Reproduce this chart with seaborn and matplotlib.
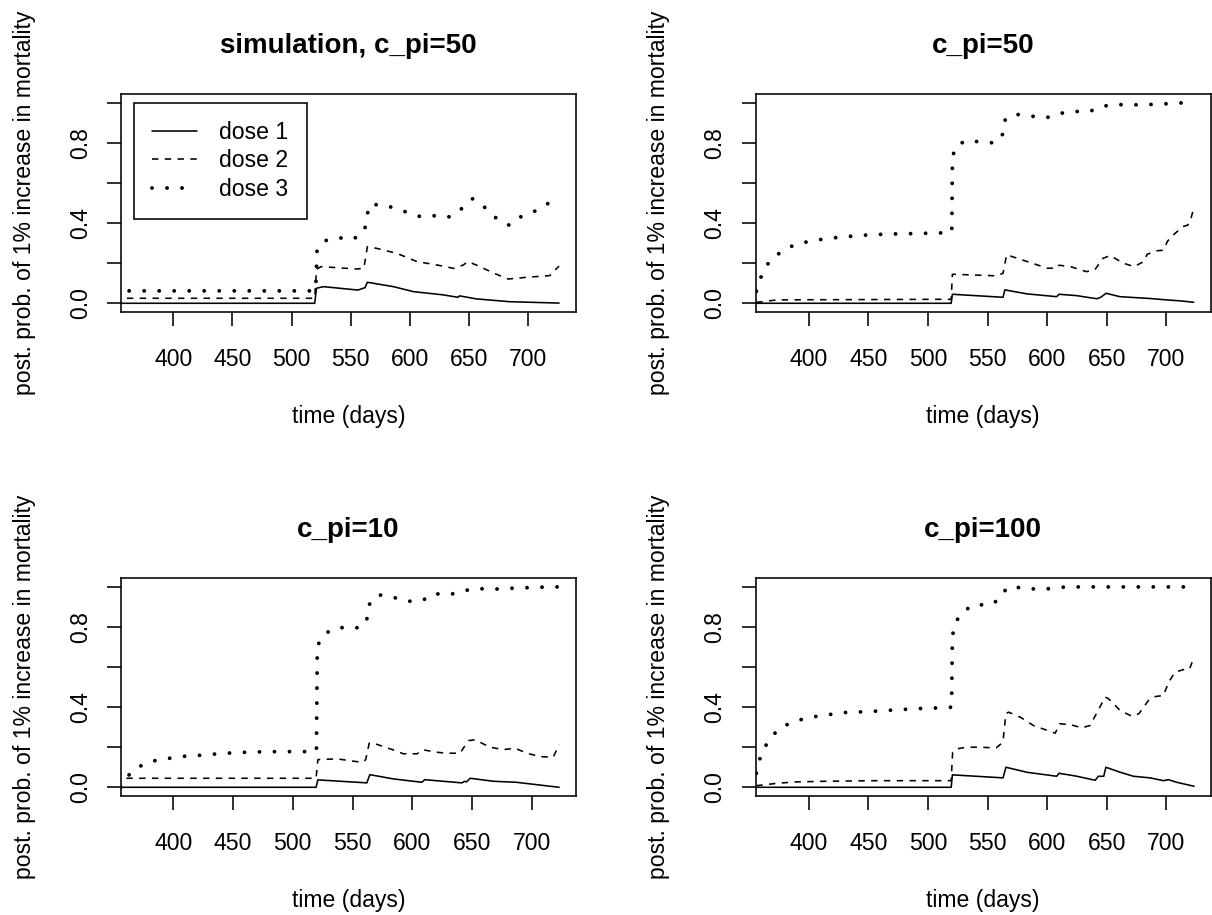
import matplotlib
matplotlib.use("Agg")
import matplotlib.pyplot as plt
import numpy as np
import pandas as pd
import seaborn as sns

# ---- posterior probability series (time in days, probability) ----
# simulation, c_pi=50
sim50_d1_t = [350, 519.5, 521, 527, 556, 562, 564, 586, 603, 628, 640.5, 642, 656, 684, 726]
sim50_d1_p = [0.0, 0.0, 0.075, 0.083, 0.066, 0.078, 0.105, 0.083, 0.058, 0.042, 0.030, 0.037, 0.022, 0.008, 0.001]
sim50_d2_t = [350, 519.5, 521, 525, 555, 561, 564, 572, 589, 606, 623, 637, 645, 649, 656, 671, 683, 699, 718, 726]
sim50_d2_p = [0.025, 0.025, 0.17, 0.183, 0.171, 0.175, 0.282, 0.274, 0.249, 0.208, 0.191, 0.174, 0.191, 0.208, 0.191, 0.150, 0.121, 0.13, 0.138, 0.186]
sim50_d3_t = [350, 519.5, 520.5, 521.5, 528, 540, 552, 559.5, 561.5, 565.5, 578, 590, 601, 609, 620, 632, 641, 647,
              653, 663.5, 672.5, 684, 693.5, 704, 713, 720, 726]
sim50_d3_p = [0.062, 0.062, 0.10, 0.27, 0.312, 0.327, 0.319, 0.353, 0.36, 0.492, 0.492, 0.468, 0.448, 0.432, 0.437,
              0.429, 0.455, 0.495, 0.522, 0.477, 0.427, 0.389, 0.431, 0.455, 0.485, 0.51, 0.52]

# c_pi=50
cpi50_d1_t = [350, 519.5, 520.5, 563, 564.5, 583, 608, 610, 625, 639, 642, 645, 649.5, 661, 686, 700, 712, 723]
cpi50_d1_p = [0.0, 0.0, 0.045, 0.03, 0.067, 0.047, 0.033, 0.045, 0.038, 0.025, 0.023, 0.03, 0.05, 0.033, 0.024, 0.017, 0.012, 0.005]
cpi50_d2_t = [356, 362, 373, 519.5, 520.5, 558, 563, 566, 586, 600, 608, 610, 619.5, 633, 640, 647, 653, 664, 673,
              681, 684, 692, 697.6, 701, 706, 714, 718, 721, 723]
cpi50_d2_p = [0.005, 0.008, 0.017, 0.02, 0.145, 0.137, 0.15, 0.242, 0.203, 0.175, 0.175, 0.19, 0.183, 0.158, 0.167,
              0.225, 0.238, 0.2, 0.183, 0.208, 0.245, 0.262, 0.265, 0.31, 0.342, 0.383, 0.39, 0.43, 0.475]
cpi50_d3_t = [356, 357.5, 361.4, 368.2, 378.5, 389.7, 402, 414.5, 427, 440, 452.5, 465, 478, 490, 503, 515.4, 520,
              520.5, 522.7, 532, 544.5, 557, 563.5, 565, 575.5, 588, 600, 610, 622, 634.7, 646, 657.6, 670, 683, 695,
              708, 723]
cpi50_d3_p = [0.06, 0.087, 0.157, 0.22, 0.263, 0.297, 0.31, 0.323, 0.33, 0.337, 0.342, 0.345, 0.347, 0.348, 0.35,
              0.352, 0.355, 0.72, 0.78, 0.813, 0.805, 0.80, 0.85, 0.923, 0.942, 0.933, 0.927, 0.947, 0.958, 0.955,
              0.983, 0.992, 0.99, 0.992, 0.993, 1.0, 1.0]

# c_pi=10
cpi10_d1_t = [350, 519.5, 521, 562, 564.5, 584, 608, 610.5, 626, 641.5, 644, 645.5, 648.5, 668, 687, 698.5, 723]
cpi10_d1_p = [0.0, 0.0, 0.037, 0.022, 0.063, 0.042, 0.025, 0.038, 0.03, 0.022, 0.03, 0.027, 0.045, 0.03, 0.025, 0.017, 0.0]
cpi10_d2_t = [350, 519.5, 521, 537, 551, 558, 561, 564, 567.5, 581.5, 592.7, 604, 609, 620.6, 629, 640, 647, 652.7,
              665, 676.4, 686, 696, 707, 718, 723]
cpi10_d2_p = [0.045, 0.045, 0.138, 0.142, 0.13, 0.125, 0.137, 0.22, 0.22, 0.192, 0.167, 0.167, 0.187, 0.175, 0.17,
              0.17, 0.233, 0.237, 0.2, 0.188, 0.195, 0.17, 0.153, 0.15, 0.213]
cpi10_d3_t = [356, 357.3, 364.6, 374.9, 386.9, 399.5, 412, 424.6, 437, 450, 462, 475, 488, 500, 513, 519.8, 520.5,
              523.4, 531.8, 544.4, 557, 563, 564.5, 572.6, 584.8, 597, 608.8, 617.8, 630.3, 641.5, 653.2, 665.8,
              678.4, 691, 703.5, 716, 723]
cpi10_d3_p = [0.0, 0.017, 0.075, 0.115, 0.137, 0.147, 0.157, 0.16, 0.167, 0.172, 0.175, 0.177, 0.178, 0.178, 0.178,
              0.18, 0.70, 0.742, 0.787, 0.8, 0.795, 0.85, 0.923, 0.96, 0.947, 0.928, 0.933, 0.967, 0.96, 0.978, 0.993,
              0.988, 0.992, 0.995, 0.998, 1.0, 1.0]

# c_pi=100
cpi100_d1_t = [350, 519.5, 520.5, 563, 565.4, 583, 608, 610, 625, 640.3, 643, 647.5, 649.3, 661.3, 672.4, 686.4,
               697.6, 701.8, 708.7, 723.3]
cpi100_d1_p = [0.0, 0.0, 0.062, 0.047, 0.1, 0.075, 0.055, 0.07, 0.055, 0.035, 0.055, 0.055, 0.1, 0.075, 0.055,
               0.047, 0.033, 0.038, 0.025, 0.005]
cpi100_d2_t = [356, 362.3, 373.5, 390, 415, 457, 519.5, 520.7, 524.3, 532.7, 541, 557.3, 562.9, 565.4, 567.6, 577.4,
               588.6, 606.8, 610.4, 619.3, 629, 636, 648.7, 651.5, 661.3, 671, 677, 685, 691, 697.6, 702, 707.4,
               716, 719.5, 723.3]
cpi100_d2_p = [0.008, 0.012, 0.02, 0.027, 0.03, 0.033, 0.033, 0.175, 0.192, 0.2, 0.2, 0.197, 0.225, 0.367, 0.375,
               0.35, 0.308, 0.27, 0.317, 0.313, 0.297, 0.308, 0.45, 0.442, 0.383, 0.355, 0.367, 0.433, 0.453, 0.458,
               0.525, 0.575, 0.59, 0.59, 0.65]
cpi100_d3_t = [356, 357.5, 361.4, 368.2, 376.8, 388.8, 400.8, 413, 425.7, 438.3, 451, 463.4, 476, 488.6, 501.4,
               514.6, 519.8, 520.5, 522.4, 529, 539, 551.4, 560, 566.3, 579, 591.4, 604, 616, 723.3]
cpi100_d3_p = [0.07, 0.117, 0.183, 0.25, 0.3, 0.33, 0.35, 0.358, 0.372, 0.375, 0.378, 0.383, 0.387, 0.392, 0.395,
               0.397, 0.40, 0.75, 0.817, 0.875, 0.913, 0.908, 0.938, 0.997, 0.997, 0.988, 0.992, 1.0, 1.0]

dose_names = ["dose 1", "dose 2", "dose 3"]
panel_titles = ["simulation, c_pi=50", "c_pi=50", "c_pi=10", "c_pi=100"]
x_ticks = [400, 450, 500, 550, 600, 650, 700]
y_ticks = [0.0, 0.2, 0.4, 0.6, 0.8, 1.0]
y_tick_labels = ["0.0", "", "0.4", "", "0.8", ""]
x_label = "time (days)"
y_label = "post. prob. of 1% increase in mortality"

panel_series = [
    [(sim50_d1_t, sim50_d1_p), (sim50_d2_t, sim50_d2_p), (sim50_d3_t, sim50_d3_p)],
    [(cpi50_d1_t, cpi50_d1_p), (cpi50_d2_t, cpi50_d2_p), (cpi50_d3_t, cpi50_d3_p)],
    [(cpi10_d1_t, cpi10_d1_p), (cpi10_d2_t, cpi10_d2_p), (cpi10_d3_t, cpi10_d3_p)],
    [(cpi100_d1_t, cpi100_d1_p), (cpi100_d2_t, cpi100_d2_p), (cpi100_d3_t, cpi100_d3_p)],
]

# ---- styling ----
sns.set_theme(style="white")
plt.rcParams["font.family"] = ["Liberation Sans", "DejaVu Sans"]
plt.rcParams["lines.scale_dashes"] = False
plt.rcParams["axes.edgecolor"] = "black"
plt.rcParams["text.color"] = "black"
plt.rcParams["axes.labelcolor"] = "black"
plt.rcParams["xtick.color"] = "black"
plt.rcParams["ytick.color"] = "black"

LABEL_FS = 16.6
TITLE_FS = 20
LW = 1.15

dose_styles = {
    "dose 1": dict(linestyle="-", linewidth=LW),
    "dose 2": dict(linestyle=(0, (4.6, 4.6)), linewidth=LW),
    "dose 3": dict(linestyle=(0, (0.01, 10.8)), linewidth=2.8, dash_capstyle="round"),
}

W, H = 1212, 915
fig = plt.figure(figsize=(W / 100, H / 100), dpi=100)

# panel boxes in pixels: left, right, top, bottom, and x-limits
boxes = [
    (121, 576, 94.3, 311.7, (355.8, 740.3)),
    (755.5, 1211, 94.3, 311.7, (355.3, 737.5)),
    (121, 576, 578.3, 795.7, (356.2, 737.1)),
    (755.5, 1211, 578.3, 795.7, (355.3, 737.5)),
]

for i, (title, series, box) in enumerate(zip(panel_titles, panel_series, boxes)):
    x0, x1, y0, y1, xlim = box
    ax = fig.add_axes([x0 / W, 1 - y1 / H, (x1 - x0) / W, (y1 - y0) / H])
    frames = []
    for name, (t, p) in zip(dose_names, series):
        frames.append(pd.DataFrame({"time": t, "prob": p, "dose": name}))
    df = pd.concat(frames, ignore_index=True)
    for name in dose_names:
        sns.lineplot(data=df[df["dose"] == name], x="time", y="prob", ax=ax,
                     color="black", estimator=None, label=name, **dose_styles[name])

    ax.set_xlim(*xlim)
    ax.set_ylim(-0.042, 1.043)
    ax.set_xticks(x_ticks)
    ax.set_xticklabels([str(v) for v in x_ticks])
    ax.set_yticks(y_ticks)
    ax.set_yticklabels(y_tick_labels)
    ax.tick_params(axis="both", direction="out", length=10.3, width=LW,
                   labelsize=LABEL_FS, bottom=True, left=True)
    ax.tick_params(axis="x", pad=15.5)
    ax.tick_params(axis="y", pad=10.5, labelrotation=90)
    for lab in ax.get_yticklabels():
        lab.set_verticalalignment("center")
    for s in ax.spines.values():
        s.set_color("black")
        s.set_linewidth(LW)
        s.set_visible(True)

    ax.set_xlabel(x_label, fontsize=LABEL_FS, labelpad=25)
    ax.set_ylabel(y_label, fontsize=LABEL_FS, labelpad=24)
    ax.set_title(title, fontsize=TITLE_FS, fontweight="bold", pad=30)

    if i == 0:
        leg = ax.legend(loc="upper left", bbox_to_anchor=(13 / 455, 1 - 8.4 / 217.4),
                        borderaxespad=0, fontsize=LABEL_FS, frameon=True, fancybox=False,
                        shadow=False, framealpha=1, edgecolor="black", handlelength=1.95,
                        handletextpad=0.94, labelspacing=0.23, borderpad=0.8)
        leg.get_frame().set_linewidth(LW)
    else:
        lg = ax.get_legend()
        if lg is not None:
            lg.remove()

fig.savefig("out.png", dpi=100, facecolor="white")
